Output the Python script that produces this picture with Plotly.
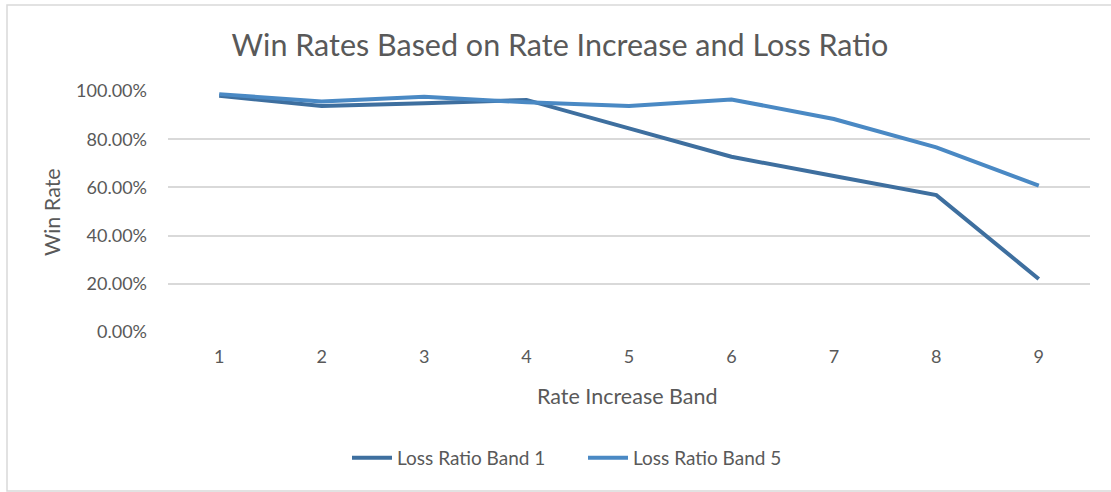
import plotly.graph_objects as go

# Win rate by rate-increase band for two loss-ratio bands
bands = [1, 2, 3, 4, 5, 6, 7, 8, 9]
band_labels = [str(b) for b in bands]
loss_ratio_band_1 = [0.980, 0.938, 0.949, 0.963, 0.845, 0.727, 0.647, 0.568, 0.220]
loss_ratio_band_5 = [0.987, 0.956, 0.976, 0.953, 0.938, 0.965, 0.884, 0.766, 0.607]
y_ticks = [0.0, 0.2, 0.4, 0.6, 0.8, 1.0]

W, H = 1111, 492
L, R, T, B = 168, 1090, 91, 332  # plot area in pixels
FONT = "Lato"
GREY = "#595959"

def px_x(p):
    return (p - L) / (R - L)

def px_y(p):
    return (B - p) / (B - T)

fig = go.Figure()
fig.add_trace(go.Scatter(
    x=band_labels, y=loss_ratio_band_1, mode="lines", name="Loss Ratio Band 1",
    line=dict(color="#3E6F9F", width=4),
))
fig.add_trace(go.Scatter(
    x=band_labels, y=loss_ratio_band_5, mode="lines", name="Loss Ratio Band 5",
    line=dict(color="#4A89C4", width=4),
))

fig.update_layout(
    width=W, height=H,
    margin=dict(l=L, r=W - R, t=T, b=H - B),
    paper_bgcolor="white", plot_bgcolor="white",
    font=dict(family=FONT, color=GREY, size=18),
    title=dict(
        text="Win Rates Based on Rate Increase and Loss Ratio",
        x=560 / W, xanchor="center", xref="container",
        y=1 - 45 / H, yanchor="middle", yref="container",
        font=dict(family=FONT, size=30.5, color=GREY),
    ),
    xaxis=dict(
        type="category", range=[-0.5, len(bands) - 0.5],
        showgrid=False, zeroline=False, showline=False,
        ticks="", tickfont=dict(size=18, color=GREY), ticklabelstandoff=12,
    ),
    yaxis=dict(
        range=[0, 1], tickvals=y_ticks, tickformat=".2%",
        showgrid=True, gridcolor="#D9D9D9", gridwidth=1.5,
        zeroline=False, showline=False, ticks="",
        tickfont=dict(size=18, color=GREY), ticklabelstandoff=20,
    ),
    showlegend=True,
    legend=dict(
        orientation="h", x=px_x(583), xanchor="center",
        y=px_y(458), yanchor="middle",
        font=dict(size=19, color=GREY), itemwidth=40,
        entrywidth=181, entrywidthmode="pixels",
        bgcolor="rgba(0,0,0,0)",
    ),
    annotations=[
        dict(text="Rate Increase Band", xref="paper", yref="paper",
             x=px_x(627), y=px_y(396), xanchor="center", yanchor="middle",
             showarrow=False, font=dict(size=21.5, color=GREY)),
        dict(text="Win Rate", xref="paper", yref="paper",
             x=px_x(52), y=px_y(212), xanchor="center", yanchor="middle",
             textangle=-90, showarrow=False, font=dict(size=21.5, color=GREY)),
    ],
    shapes=[
        dict(type="rect", xref="paper", yref="paper",
             x0=px_x(7), x1=px_x(1120), y0=px_y(491), y1=px_y(5),
             line=dict(color="#D9D9D9", width=1.5), layer="below"),
    ],
)

fig.write_html("out.html")
